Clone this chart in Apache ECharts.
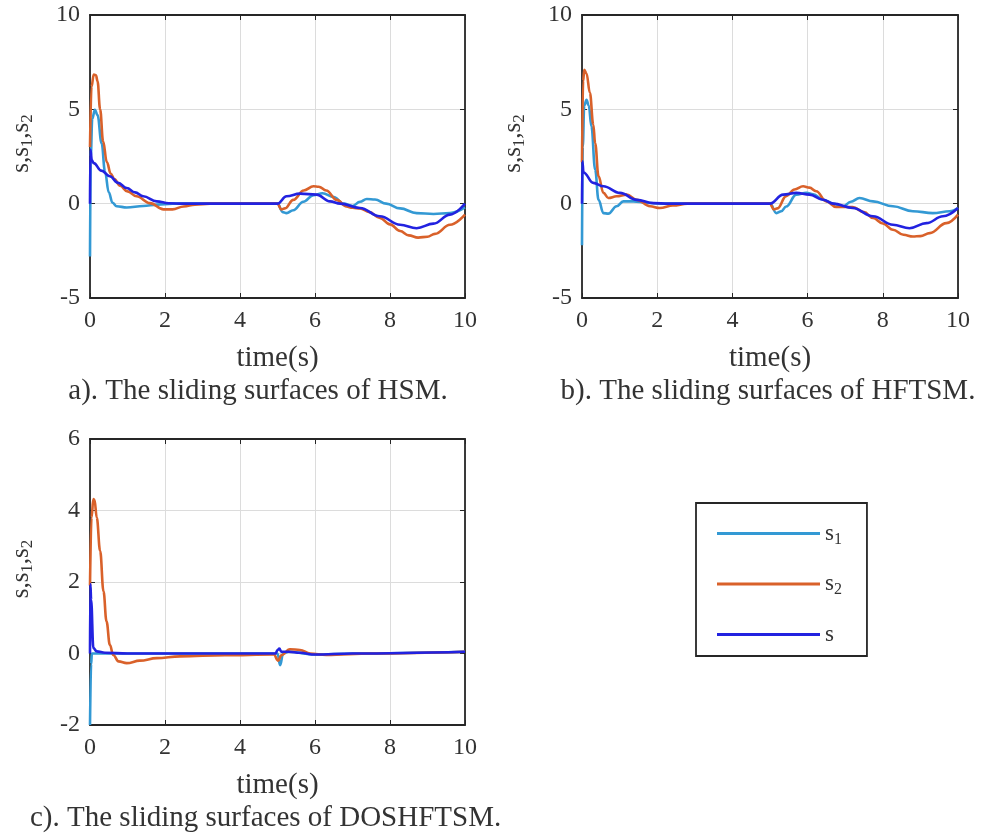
<!DOCTYPE html>
<html>
<head>
<meta charset="utf-8">
<script src="https://cdn.jsdelivr.net/npm/echarts@6/dist/echarts.min.js"></script>
<style>
  html, body { margin: 0; padding: 0; background: #fff; }
  #chart { width: 988px; height: 838px; }
</style>
</head>
<body>
<div id="chart"></div>
<script>
// tick labels
var xTicks = [0, 2, 4, 6, 8, 10];
var yTicksAB = [-5, 0, 5, 10];
var yTicksC = [-2, 0, 2, 4, 6];

// a) HSM  -- [time, value]
var s1A = [[0,-2.8],[0.02,2.5],[0.06,4.5],[0.13,4.98],[0.2,4.7],[0.31,3.2],[0.4,1.7],[0.5,0.6],[0.6,0.05],[0.71,-0.14],[0.98,-0.2],[1.42,-0.12],[1.8,-0.05],[2.2,0],[5.0,0],[5.14,-0.45],[5.24,-0.5],[5.42,-0.35],[5.69,0.1],[5.96,0.45],[6.2,0.55],[6.5,0.35],[6.76,0.0],[7.0,-0.12],[7.2,0.1],[7.38,0.25],[7.6,0.22],[7.9,0.0],[8.27,-0.25],[8.71,-0.5],[9.16,-0.55],[9.6,-0.5],[10,-0.2]];
var s2A = [[0,3.0],[0.04,6.2],[0.1,6.85],[0.16,6.8],[0.2,6.5],[0.27,5.0],[0.35,3.3],[0.45,2.2],[0.55,1.6],[0.65,1.3],[0.8,0.95],[1.0,0.65],[1.24,0.39],[1.6,0.03],[1.96,-0.3],[2.2,-0.3],[2.5,-0.15],[2.8,-0.05],[3.2,0],[5.0,0],[5.1,-0.3],[5.2,-0.25],[5.42,0.2],[5.7,0.7],[5.96,0.92],[6.1,0.9],[6.3,0.7],[6.58,0.2],[6.84,-0.15],[7.0,-0.22],[7.2,-0.25],[7.45,-0.45],[7.73,-0.76],[8.0,-1.1],[8.27,-1.45],[8.5,-1.68],[8.75,-1.8],[9.0,-1.75],[9.2,-1.6],[9.6,-1.12],[10,-0.58]];
var sA = [[0,0],[0.01,2.87],[0.05,2.3],[0.1,2.15],[0.3,1.75],[0.53,1.45],[0.75,1.1],[0.98,0.83],[1.2,0.6],[1.42,0.39],[1.78,0.12],[2.1,0.02],[2.5,0],[5.0,0],[5.24,0.39],[5.6,0.53],[6.04,0.48],[6.4,0.12],[6.67,0],[7.2,-0.23],[7.73,-0.67],[8.27,-1.12],[8.71,-1.3],[9.16,-1.06],[9.6,-0.58],[10,0]];

// b) HFTSM
var s1B = [[0,-2.2],[0.02,3.0],[0.06,5.2],[0.12,5.5],[0.18,5.2],[0.25,4.1],[0.35,1.8],[0.44,0.2],[0.57,-0.5],[0.7,-0.53],[0.92,-0.14],[1.1,0.12],[1.37,0.12],[1.72,0.05],[2.1,0],[5.0,0],[5.17,-0.5],[5.3,-0.4],[5.43,-0.15],[5.7,0.48],[5.97,0.57],[6.15,0.5],[6.41,0.21],[6.68,0],[6.94,-0.15],[7.15,0.1],[7.38,0.3],[7.74,0.12],[8.27,-0.14],[8.8,-0.4],[9.33,-0.5],[9.78,-0.4],[10,-0.23]];
var s2B = [[0,2.2],[0.03,6.5],[0.06,7.1],[0.12,6.9],[0.21,5.87],[0.3,4.2],[0.35,3.2],[0.44,1.45],[0.57,0.57],[0.7,0.3],[0.92,0.39],[1.19,0.48],[1.46,0.2],[1.81,-0.14],[2.07,-0.23],[2.42,-0.1],[2.8,0],[5.0,0],[5.1,-0.3],[5.2,-0.25],[5.43,0.4],[5.65,0.75],[5.88,0.92],[6.05,0.85],[6.23,0.66],[6.5,0.12],[6.76,-0.18],[7.2,-0.18],[7.5,-0.45],[7.74,-0.76],[8.0,-1.05],[8.27,-1.38],[8.55,-1.65],[8.8,-1.74],[9.0,-1.72],[9.25,-1.56],[9.69,-1.03],[10,-0.58]];
var sB = [[0,0],[0.01,2.25],[0.04,1.65],[0.3,1.1],[0.57,0.92],[1.01,0.57],[1.46,0.2],[1.9,0.03],[2.3,0],[5.0,0],[5.35,0.48],[5.7,0.57],[6.05,0.48],[6.41,0.21],[6.68,0],[7.2,-0.23],[7.74,-0.67],[8.27,-1.12],[8.71,-1.3],[9.16,-1.03],[9.6,-0.67],[10,-0.23]];

// c) DOSHFTSM
var s1C = [[0,-2],[0.03,-0.3],[0.05,0],[5.0,0],[5.07,-0.33],[5.15,0.0],[5.3,0.05],[6,-0.03],[7,0],[10,0.05]];
var s2C = [[0,1.9],[0.04,3.8],[0.09,4.32],[0.12,4.3],[0.18,3.8],[0.27,2.87],[0.36,1.74],[0.44,0.9],[0.53,0.24],[0.62,-0.04],[0.76,-0.22],[0.98,-0.27],[1.33,-0.2],[1.78,-0.13],[2.4,-0.08],[3.6,-0.05],[4.9,-0.03],[5.02,-0.2],[5.1,-0.05],[5.33,0.12],[5.6,0.1],[5.87,0.0],[6.3,-0.04],[7.5,0],[10,0.05]];
var sC = [[0,0],[0.01,1.94],[0.03,1.5],[0.09,0.15],[0.18,0.06],[0.4,0.02],[1,0],[4.95,0],[5.0,0.1],[5.05,0.14],[5.1,0.05],[5.3,0.05],[5.6,0.02],[6.0,-0.03],[7,0],[10,0.05]];

var captions = ['a). The sliding surfaces of HSM.', 'b). The sliding surfaces of HFTSM.', 'c). The sliding surfaces of DOSHFTSM.'];
var seriesNames = ['s1', 's2', 's'];
var colors = ['#3399D4', '#D9612A', '#2222E0'];

var FONT = 'Liberation Serif';
var TXT = '#333';
var AX = '#262626';

var chart = echarts.init(document.getElementById('chart'));

function xAxes(gi) {
  return [{
    gridIndex: gi, type: 'value', min: xTicks[0], max: xTicks[xTicks.length - 1], interval: 2,
    name: 'time(s)', nameLocation: 'middle', nameGap: 46,
    nameTextStyle: { fontFamily: FONT, fontSize: 29, color: TXT },
    axisLine: { show: true, onZero: false, lineStyle: { color: AX, width: 1.8 } },
    axisTick: { inside: true, length: 5, lineStyle: { color: AX } },
    axisLabel: { fontFamily: FONT, fontSize: 24, color: TXT, margin: 11 },
    splitLine: { show: true, lineStyle: { color: '#dcdcdc', width: 1 } }
  }, {
    gridIndex: gi, type: 'value', position: 'top', min: 0, max: 10, interval: 2,
    axisLine: { show: true, onZero: false, lineStyle: { color: AX, width: 1.8 } },
    axisLabel: { show: false }, splitLine: { show: false },
    axisTick: { inside: true, length: 5, lineStyle: { color: AX } }
  }];
}

function yAxes(gi, ticks) {
  var yn = ticks[0], yx = ticks[ticks.length - 1], step = ticks[1] - ticks[0];
  return [{
    gridIndex: gi, type: 'value', min: yn, max: yx, interval: step,
    name: '{n|s,s}{b|1}{n|,s}{b|2}', nameLocation: 'middle', nameGap: 54, nameRotate: 90,
    nameTextStyle: {
      padding: [0, 0, 0, 26],
      rich: {
        n: { fontFamily: FONT, fontSize: 25, color: TXT },
        b: { fontFamily: FONT, fontSize: 17, color: TXT, padding: [13, 0, 0, 0] }
      }
    },
    axisLine: { show: true, onZero: false, lineStyle: { color: AX, width: 1.8 } },
    axisTick: { inside: true, length: 5, lineStyle: { color: AX } },
    axisLabel: { fontFamily: FONT, fontSize: 24, color: TXT, margin: 10 },
    splitLine: { show: true, lineStyle: { color: '#dcdcdc', width: 1 } }
  }, {
    gridIndex: gi, type: 'value', position: 'right', min: yn, max: yx, interval: step,
    axisLine: { show: true, onZero: false, lineStyle: { color: AX, width: 1.8 } },
    axisLabel: { show: false }, splitLine: { show: false },
    axisTick: { inside: true, length: 5, lineStyle: { color: AX } }
  }];
}

function lines(gi, datas) {
  return datas.map(function (d, k) {
    return {
      name: seriesNames[k], type: 'line', xAxisIndex: gi * 2, yAxisIndex: gi * 2,
      data: d, showSymbol: false, smooth: 0.4, smoothMonotone: 'x',
      lineStyle: { width: 2.6, color: colors[k] }, itemStyle: { color: colors[k] },
      z: 2 + k
    };
  });
}

var option = {
  animation: false,
  backgroundColor: '#fff',
  grid: [
    { left: 90, top: 15, width: 375, height: 283 },
    { left: 582, top: 15, width: 376, height: 283 },
    { left: 90, top: 439, width: 375, height: 286 }
  ],
  xAxis: [].concat(xAxes(0), xAxes(1), xAxes(2)),
  yAxis: [].concat(yAxes(0, yTicksAB), yAxes(1, yTicksAB), yAxes(2, yTicksC)),
  legend: {
    orient: 'vertical', left: 696, top: 503,
    data: seriesNames, icon: 'rect', itemWidth: 103, itemHeight: 3, itemGap: 25,
    padding: [19, 25, 10, 21],
    borderColor: AX, borderWidth: 1.8,
    formatter: function (n) { return n === 's' ? '{n|s}' : '{n|s}{b|' + n.slice(1) + '}'; },
    textStyle: {
      rich: {
        n: { fontFamily: FONT, fontSize: 23, color: TXT },
        b: { fontFamily: FONT, fontSize: 16, color: TXT, padding: [12, 0, 0, 0] }
      }
    }
  },
  graphic: [
    { type: 'text', x: 258, y: 391, style: { text: captions[0], font: '29px "Liberation Serif"', fill: TXT, textAlign: 'center', textVerticalAlign: 'middle' } },
    { type: 'text', x: 768, y: 391, style: { text: captions[1], font: '29px "Liberation Serif"', fill: TXT, textAlign: 'center', textVerticalAlign: 'middle' } },
    { type: 'text', x: 30, y: 818, style: { text: captions[2], font: '29px "Liberation Serif"', fill: TXT, textAlign: 'left', textVerticalAlign: 'middle' } }
  ],
  series: [].concat(lines(0, [s1A, s2A, sA]), lines(1, [s1B, s2B, sB]), lines(2, [s1C, s2C, sC]))
};

chart.setOption(option);
</script>
</body>
</html>
